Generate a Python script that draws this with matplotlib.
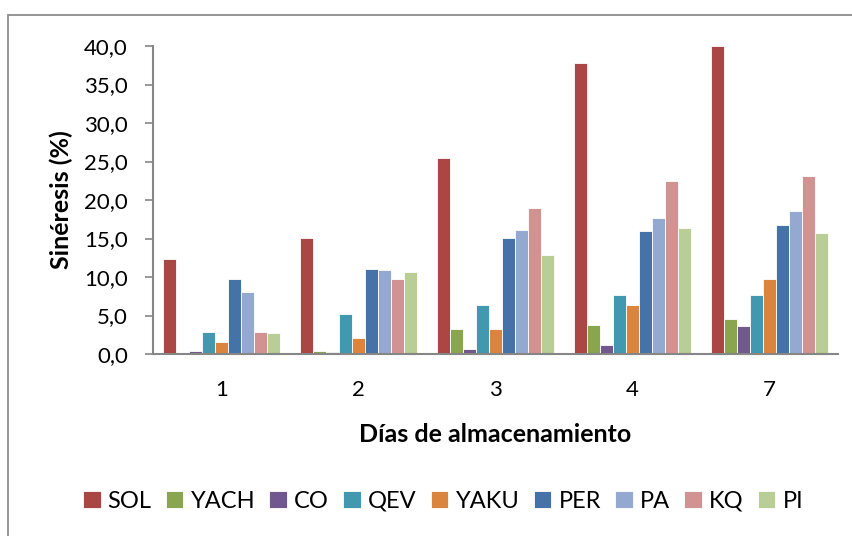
import numpy as np
import matplotlib
matplotlib.use('Agg')
import matplotlib.pyplot as plt
from matplotlib.patches import Rectangle
from matplotlib.ticker import FuncFormatter

plt.rcParams['font.family'] = ['Lato', 'DejaVu Sans']

dias = ['1', '2', '3', '4', '7']
series = ['SOL', 'YACH', 'CO', 'QEV', 'YAKU', 'PER', 'PA', 'KQ', 'PI']
SOL = [12.4, 15.1, 25.4, 37.8, 40.0]
YACH = [0.1, 0.4, 3.2, 3.8, 4.6]
CO = [0.4, 0.2, 0.7, 1.2, 3.7]
QEV = [2.9, 5.2, 6.3, 7.6, 7.6]
YAKU = [1.5, 2.1, 3.2, 6.3, 9.7]
PER = [9.7, 11.0, 15.1, 16.0, 16.8]
PA = [8.0, 10.9, 16.1, 17.7, 18.6]
KQ = [2.9, 9.7, 19.0, 22.5, 23.1]
PI = [2.7, 10.6, 12.8, 16.3, 15.7]
colors = ['#AA4643', '#89A54E', '#71588F', '#4198AF', '#DB843D',
          '#4572A7', '#93A9CF', '#D19392', '#B9CD96']

data = [SOL, YACH, CO, QEV, YAKU, PER, PA, KQ, PI]

fig = plt.figure(figsize=(8.53, 5.36), dpi=100)
ax = fig.add_axes([153 / 853, 1 - 354 / 536, 685 / 853, 308 / 536])

# outer chart frame (only left and top edges fall inside the image)
top = 1 - 15 / 536
fig.add_artist(Rectangle((8 / 853, -0.2), 1.2, top + 0.2,
                         transform=fig.transFigure, fill=False,
                         edgecolor='#8c8c8c', linewidth=1.3))

x = np.arange(len(dias))
w = 0.86 / len(series)
for i, (name, vals, c) in enumerate(zip(series, data, colors)):
    ax.bar(x + (i - 4) * w, vals, width=w, color=c, edgecolor='white',
           linewidth=0.6, label=name)

ax.set_xlim(-0.5, len(dias) - 0.5)
ax.set_ylim(0, 40)
ax.set_yticks(np.arange(0, 41, 5))
ax.yaxis.set_major_formatter(FuncFormatter(lambda v, p: f'{v:.1f}'.replace('.', ',')))
ax.set_xticks(x)
ax.set_xticklabels(dias)

for s in ['top', 'right']:
    ax.spines[s].set_visible(False)
for s in ['left', 'bottom']:
    ax.spines[s].set_color('#868686')
    ax.spines[s].set_linewidth(1.5)
ax.tick_params(axis='y', length=6, width=1.2, color='#868686', labelsize=16, pad=12)
ax.tick_params(axis='x', length=0, labelsize=16, pad=19)

ax.set_xlabel('Días de almacenamiento', fontsize=18, fontweight='bold', labelpad=16)
ax.set_ylabel('Sinéresis (%)', fontsize=18, fontweight='bold', labelpad=8)

fig.legend(loc='center', bbox_to_anchor=(443 / 853, 1 - 501 / 536), ncol=9,
           frameon=False, fontsize=17, handlelength=0.75, handleheight=0.75,
           handletextpad=0.3, columnspacing=0.6)

fig.savefig('out.png', dpi=100)
